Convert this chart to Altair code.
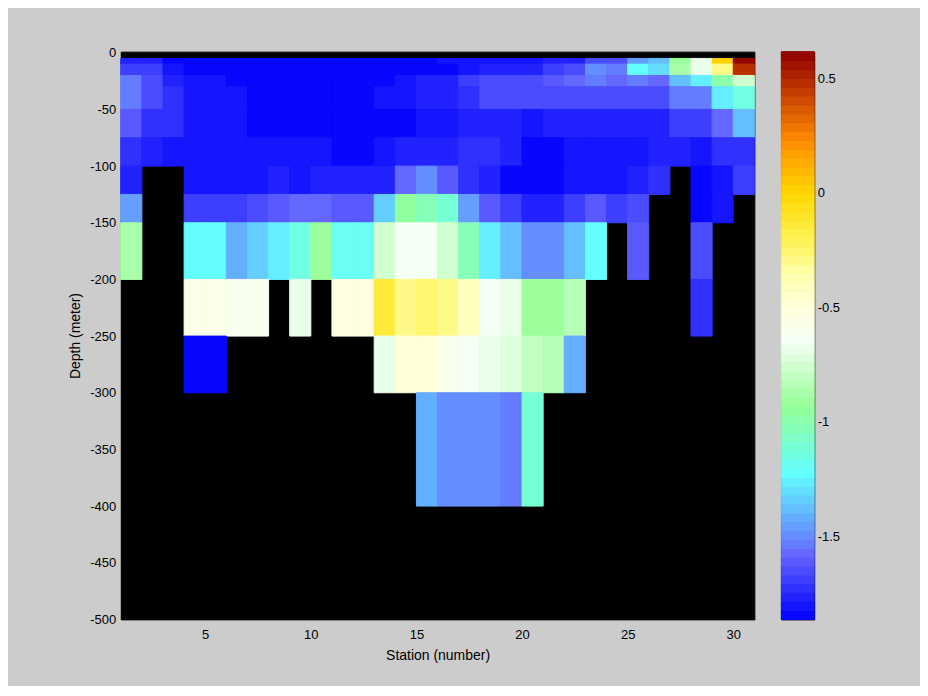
import altair as alt
import pandas as pd

# ---------------- data ----------------
stations = list(range(1, 31))                       # cell j spans [j, j+1]
depth_top = [-5, -10, -20, -30, -50, -75, -100, -125, -150, -200, -250, -300]
depth_bottom = [-10, -20, -30, -50, -75, -100, -125, -150, -200, -250, -300, -400]
N = None
r0 = [-1.75, -1.75, -1.83, -1.86, -1.86, -1.86, -1.86, -1.86, -1.86, -1.86, -1.86, -1.86, -1.86, -1.86, -1.86,
      -1.81, -1.81, -1.81, -1.81, -1.81, -1.75, -1.75, -1.66, -1.66, -1.45, -1.37, -0.93, -0.665, 0.0, 0.61]
r1 = [-1.68, -1.68, -1.82, -1.86, -1.86, -1.86, -1.86, -1.86, -1.86, -1.86, -1.86, -1.86, -1.86, -1.86,
      -1.835, -1.835, -1.79, -1.765, -1.765, -1.765, -1.695, -1.66, -1.5, -1.54, -1.22, -1.305, -0.87, -0.68, -0.29, 0.47]
r2 = [-1.54, -1.64, -1.75, -1.81, -1.81, -1.86, -1.86, -1.86, -1.86, -1.86, -1.86, -1.86, -1.86,
      -1.82, -1.765, -1.75, -1.695, -1.65, -1.65, -1.65, -1.61, -1.58, -1.52, -1.58, -1.54, -1.58, -1.37, -1.26, -1.01, -0.75]
r3 = [-1.54, -1.64, -1.73, -1.79, -1.79, -1.82, -1.86, -1.86, -1.86, -1.86, -1.86, -1.86,
      -1.82, -1.79, -1.765, -1.765, -1.735, -1.65, -1.65, -1.65, -1.65, -1.65, -1.65, -1.65, -1.65, -1.65,
      -1.54, -1.54, -1.26, -1.15]
r4 = [-1.595, -1.72, -1.72, -1.79, -1.79, -1.82, -1.83, -1.83, -1.83, -1.86, -1.86, -1.86, -1.86,
      -1.83, -1.79, -1.79, -1.765, -1.765, -1.765, -1.79, -1.765, -1.765, -1.765, -1.765, -1.765, -1.765,
      -1.68, -1.68, -1.58, -1.37]
r5 = [-1.73, -1.75, -1.79, -1.79, -1.79, -1.82, -1.82, -1.82, -1.82, -1.82,
      -1.86, -1.86, -1.82, -1.75, -1.75, -1.765, -1.735, -1.735, -1.765, -1.83, -1.83, -1.79, -1.79, -1.79, -1.79,
      -1.765, -1.765, -1.79, -1.72, -1.72]
r6 = [-1.78, N, N, -1.79, -1.79, -1.79, -1.79, -1.75, -1.79, -1.75, -1.78, -1.78, -1.75, -1.58, -1.5,
      -1.61, -1.735, -1.765, -1.83, -1.86, -1.86, -1.79, -1.79, -1.79, -1.765, -1.735, N, -1.86, -1.79, -1.68]
r7 = [-1.45, N, N, -1.68, -1.68, -1.68, -1.66, -1.61, -1.58, -1.58, -1.595, -1.595, -1.355, -0.96, -1.03,
      -1.12, -1.45, -1.61, -1.695, -1.765, -1.765, -1.695, -1.61, -1.695, -1.665, N, N, -1.83, -1.79, N]
r8 = [-0.87, N, N, -1.22, -1.22, -1.40, -1.355, -1.26, -1.15, -0.91, -1.17, -1.17, -0.75, -0.65, -0.65,
      -0.75, -1.03, -1.26, -1.37, -1.5, -1.5, -1.37, -1.22, N, -1.61, N, N, -1.65, N, N]
r9 = [N, N, N, -0.55, -0.55, -0.6, -0.6, N, -0.68, N, -0.52, -0.52, -0.12, -0.29, -0.24,
      -0.29, -0.41, -0.65, -0.68, -0.91, -0.93, -0.83, N, N, N, N, N, -1.72, N, N]
r10 = [N, N, N, -1.86, -1.86, N, N, N, N, N, N, N, -0.68, -0.5, -0.5,
       -0.6, -0.65, -0.68, -0.71, -0.78, -0.83, -1.40, N, N, N, N, N, N, N, N]
r11 = [N] * 14 + [-1.40, -1.5, -1.5, -1.5, -1.54, -1.09] + [N] * 10
rows = [r0, r1, r2, r3, r4, r5, r6, r7, r8, r9, r10, r11]

vmin, vmax = -1.862, 0.616
x_ticks = [5, 10, 15, 20, 25, 30]
y_ticks = [0, -50, -100, -150, -200, -250, -300, -350, -400, -450, -500]
cb_ticks = [-1.5, -1, -0.5, 0, 0.5]

# ---------------- colormap (64 steps) ----------------
anchors = [(-1.862, (0, 0, 255)), (-1.58, (100, 100, 255)), (-1.5, (100, 140, 255)),
           (-1.22, (100, 255, 255)), (-0.93, (150, 255, 150)), (-0.65, (245, 255, 245)),
           (-0.5, (255, 255, 220)), (-0.349, (255, 255, 170)), (-0.235, (255, 245, 100)),
           (-0.119, (255, 232, 50)), (0.0, (255, 215, 0)), (0.229, (255, 140, 0)),
           (0.5, (180, 40, 0)), (0.616, (140, 0, 0))]
NSTEP = 64


def cmap(v):
    for (a, ca), (b, cb) in zip(anchors[:-1], anchors[1:]):
        if a <= v <= b:
            t = (v - a) / (b - a)
            return "#%02x%02x%02x" % tuple(round(ca[k] + t * (cb[k] - ca[k])) for k in range(3))
    return "#%02x%02x%02x" % (anchors[-1][1] if v > 0 else anchors[0][1])


edges = [vmin + k * (vmax - vmin) / NSTEP for k in range(NSTEP + 1)]
colors = [cmap(vmin + (k + 0.5) * (vmax - vmin) / NSTEP) for k in range(NSTEP)]


def cscale():
    return alt.Scale(type="quantize", domain=[vmin, vmax], range=colors)


recs = []
for i, row in enumerate(rows):
    for j, v in enumerate(row):
        if v is not None:
            recs.append({"x": stations[j], "x2": stations[j] + 1,
                         "y": depth_top[i], "y2": depth_bottom[i], "v": v})
df = pd.DataFrame(recs)

cb = pd.DataFrame({"lo": edges[:-1], "hi": edges[1:],
                   "mid": [(a + b) / 2 for a, b in zip(edges[:-1], edges[1:])],
                   "x0": 0, "x1": 1})

FONT = "Liberation Sans"
lab = "toString(datum.value)"

heat = alt.Chart(df).mark_rect(strokeWidth=1).encode(
    x=alt.X("x:Q", scale=alt.Scale(domain=[1, 31], nice=False, zero=False),
            axis=alt.Axis(values=x_ticks, title="Station (number)", labelExpr=lab,
                          ticks=False, tickSize=0, domain=False, grid=False,
                          labelPadding=9, titlePadding=7)),
    x2="x2:Q",
    y=alt.Y("y:Q", scale=alt.Scale(domain=[-500, 1], nice=False, zero=False),
            axis=alt.Axis(values=y_ticks, title="Depth (meter)", labelExpr=lab,
                          ticks=False, tickSize=0, domain=False, grid=False,
                          labelPadding=5, titlePadding=7)),
    y2="y2:Q",
    color=alt.Color("v:Q", scale=cscale(), legend=None),
    stroke=alt.Stroke("v:Q", scale=cscale(), legend=None),
).properties(width=635, height=569)

cb_y = alt.Scale(domain=[vmin, vmax], nice=False, zero=False)
cb_x = alt.Scale(domain=[0, 1], nice=False, zero=False)

bar_right = alt.Chart(cb).mark_rect(strokeWidth=1).encode(
    x=alt.X("x0:Q", scale=cb_x, axis=None), x2="x1:Q",
    y=alt.Y("lo:Q", scale=cb_y,
            axis=alt.Axis(orient="right", values=cb_ticks, labelExpr=lab, title=None,
                          offset=-5, tickSize=5, ticks=True, tickColor="black",
                          domain=False, grid=False, labelPadding=3)),
    y2="hi:Q",
    color=alt.Color("mid:Q", scale=cscale(), legend=None),
    stroke=alt.Stroke("mid:Q", scale=cscale(), legend=None),
)
bar_left = alt.Chart(cb).mark_rect(opacity=0).encode(
    x=alt.X("x0:Q", scale=cb_x, axis=None), x2="x1:Q",
    y=alt.Y("lo:Q", scale=cb_y,
            axis=alt.Axis(orient="left", values=cb_ticks, labels=False, title=None,
                          offset=-5, tickSize=5, ticks=True, tickColor="black",
                          domain=False, grid=False)),
    y2="hi:Q",
)
cbar = alt.layer(bar_right, bar_left).resolve_axis(y="independent").properties(width=33, height=569)

chart = alt.hconcat(heat, cbar, spacing=25).properties(
    background="#cccccc",
    padding={"left": 60, "top": 37, "right": 80, "bottom": 22},
).configure_view(fill="black", stroke="black", strokeWidth=1).configure_axis(
    labelFont=FONT, titleFont=FONT, labelFontSize=13, titleFontSize=14,
    titleFontWeight="normal", labelColor="black", titleColor="black",
)

chart.save("out.html", embed_options={"renderer": "svg", "actions": False})
